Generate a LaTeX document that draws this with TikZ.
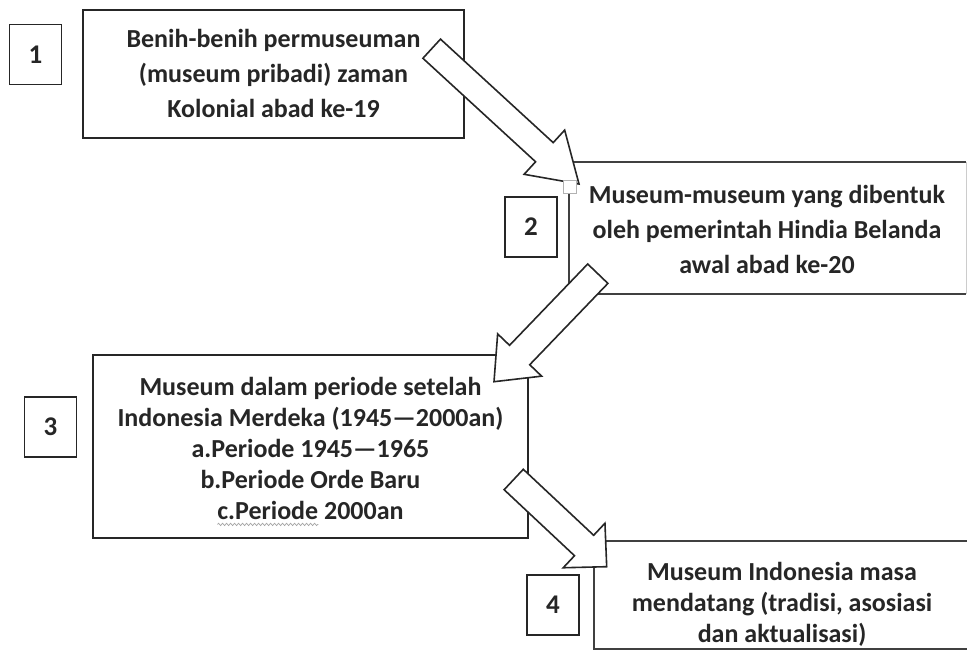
\documentclass[tikz,border=0pt]{standalone}
\usepackage{fontspec}
\setmainfont{Carlito}
\usetikzlibrary{calc,decorations.pathmorphing}

% block arrow: tail, tip, shaft half width, head half width, head length
\newcommand{\blockarrow}[5]{%
  \coordinate (#1-h) at ($(#2)!#5!(#1)$);
  \draw[arrowshape] ($(#1)!#3!90:(#2)$) -- ($(#1-h)!#3!90:(#2)$) -- ($(#1-h)!#4!90:(#2)$)
    -- (#2) -- ($(#1-h)!#4!-90:(#2)$) -- ($(#1-h)!#3!-90:(#2)$) -- ($(#1)!#3!-90:(#2)$) -- cycle;
}
\newlength\wavew
\newlength\linew

\begin{document}
\settowidth\wavew{\fontsize{26}{31}\selectfont\bfseries c.Periode}
\settowidth\linew{\fontsize{26}{31}\selectfont\bfseries c.Periode 2000an}
\begin{tikzpicture}[x=1pt,y=-1pt,
  frame/.style={draw=black!85, line width=1.5pt},
  thinframe/.style={draw=black!75, line width=1.1pt},
  numbox/.style={draw=black!85, line width=1.6pt, minimum width=52pt, minimum height=60pt, inner sep=0pt, text=black!85, font=\fontsize{27}{31}\selectfont\bfseries},
  boxtext/.style={align=center, inner sep=0pt, text=black!85, font=\fontsize{26}{35}\selectfont\bfseries},
  tighttext/.style={boxtext, font=\fontsize{26}{31}\selectfont\bfseries},
  arrowshape/.style={draw=black!85, line width=1.6pt, fill=white, line join=miter},
  squiggle/.style={draw=gray!70, line width=0.7pt, decorate, decoration={snake, amplitude=1.2pt, segment length=4pt}}]
\useasboundingbox (0,0) rectangle (967,650);

% Draw the frames
\draw[frame] (83,10) rectangle (464,138);
\draw[thinframe] (966,162) -- (569,162) -- (569,294) -- (966,294);
\draw[gray!40, line width=0.8pt] (966,162) -- (966,294);
\draw[frame] (93,355) rectangle (528,538);
\draw[thinframe] (968,541) -- (594,541) -- (594,649) -- (968,649);

% Arrows between the stages
\coordinate (a1s) at (431.7,48.7);
\coordinate (a1e) at (579,184);
\coordinate (a2s) at (597.8,273.7);
\coordinate (a2e) at (494,381.7);
\coordinate (a3s) at (513.7,479.5);
\coordinate (a3e) at (606.7,566.7);
\blockarrow{a1s}{a1e}{13pt}{30pt}{47pt}
\blockarrow{a2s}{a2e}{14pt}{30.5pt}{37pt}
\blockarrow{a3s}{a3e}{14pt}{30.5pt}{31pt}
\draw[gray!60, line width=0.8pt, fill=white] (563,180) rectangle (576,193);

% Stage numbers
\node[numbox] (n1) at (35.5,54.5) {1};
\node[numbox] (n2) at (531,227) {2};
\node[numbox] (n3) at (50.5,427) {3};
\node[numbox] (n4) at (553,605) {4};

% Stage texts
\node[boxtext] (t1) at (273.5,73) {Benih-benih permuseuman\\(museum pribadi) zaman\\Kolonial abad ke-19};
\node[boxtext] (t2) at (767,229) {Museum-museum yang dibentuk\\oleh pemerintah Hindia Belanda\\awal abad ke-20};
\node[tighttext] (t3) at (310.5,448) {Museum dalam periode setelah\\Indonesia Merdeka (1945—2000an)\\a.Periode 1945—1965\\b.Periode Orde Baru\\c.Periode 2000an};
\node[tighttext] (t4) at (782,604) {Museum Indonesia masa\\mendatang (tradisi, asosiasi\\dan aktualisasi)};

% spell-check wave under c.Periode
\coordinate (w1) at ($(t3.south)+(-0.5\linew,-5pt)$);
\coordinate (w2) at ($(w1)+(\wavew,0pt)$);
\draw[squiggle] (w1) -- (w2);
\end{tikzpicture}
\end{document}
